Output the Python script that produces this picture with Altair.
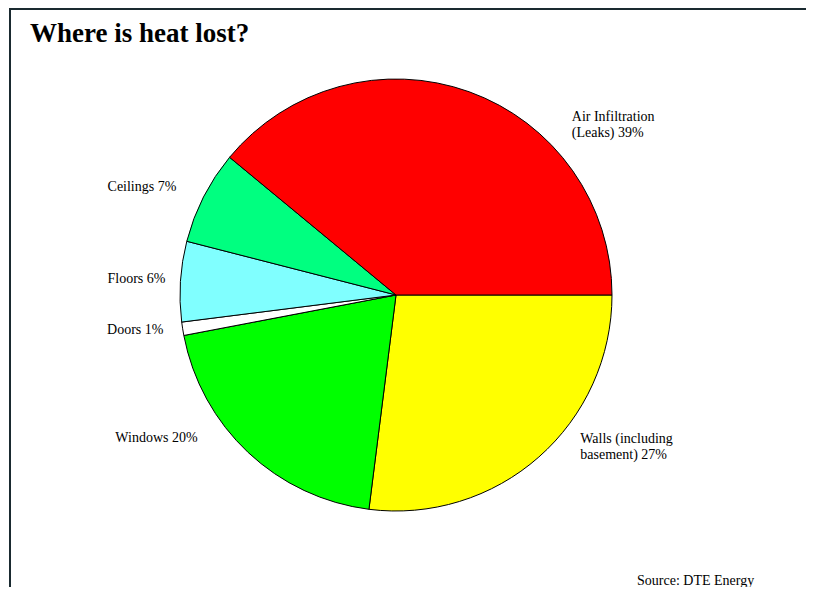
import math
import altair as alt
import pandas as pd

# ---- data (clockwise from 3 o'clock) ----
categories = ["Walls (including basement)", "Windows", "Doors", "Floors", "Ceilings", "Air Infiltration (Leaks)"]
shares = [27, 20, 1, 6, 7, 39]
labels = ["Walls (including\nbasement) 27%", "Windows 20%", "Doors 1%", "Floors 6%", "Ceilings 7%",
          "Air Infiltration\n(Leaks) 39%"]
colors = ["#FFFF00", "#00FF00", "#FFFFFF", "#80FFFF", "#00FF80", "#FF0000"]
title_text = "Where is heat lost?"
source_text = "Source: DTE Energy"

# label anchors: position along the circle (percent units) and distance from centre (px)
label_at = [10.57, 42.5, 48.1, 50.9, 55.7, 87.41]
label_r = [234, 315, 291, 289, 308, 250]

df = pd.DataFrame({
    "category": categories,
    "share": shares,
    "label": labels,
    "idx": list(range(len(categories))),
    "label_at": label_at,
    "label_r": label_r,
})

theta_scale = alt.Scale(domain=[0, 100], range=[math.pi / 2, math.pi / 2 + 2 * math.pi])
FONT = "Liberation Serif"

pie = alt.Chart(df).mark_arc(radius=216, stroke="black", strokeWidth=1).encode(
    theta=alt.Theta("share:Q", stack=True, scale=theta_scale),
    order=alt.Order("idx:Q"),
    color=alt.Color("category:N", scale=alt.Scale(domain=categories, range=colors), legend=None),
)

text = alt.Chart(df).mark_text(
    align="left", baseline="middle", font=FONT, fontSize=14, lineBreak="\n", lineHeight=16, color="black"
).encode(
    theta=alt.Theta("label_at:Q", stack=False, scale=theta_scale),
    radius=alt.Radius("label_r:Q", scale=None),
    text="label:N",
)

one = pd.DataFrame({"title": [title_text], "source": [source_text]})

title = alt.Chart(one).mark_text(
    align="left", baseline="alphabetic", font=FONT, fontSize=27, fontWeight="bold", color="black"
).encode(x=alt.value(20), y=alt.value(-6), text="title:N")

source = alt.Chart(one).mark_text(
    align="left", baseline="middle", font=FONT, fontSize=14, color="black"
).encode(x=alt.value(627), y=alt.value(533), text="source:N")

border_left = alt.Chart(one).mark_rule(color="#1a2a30", strokeWidth=2).encode(
    x=alt.value(0), y=alt.value(-40), y2=alt.value(539)
)
border_top = alt.Chart(one).mark_rule(color="#1a2a30", strokeWidth=2).encode(
    x=alt.value(-1), x2=alt.value(796), y=alt.value(-39)
)

chart = alt.layer(pie, text, title, source, border_left, border_top).properties(
    width=772,
    height=494,
    autosize=alt.AutoSizeParams(type="none"),
    padding={"left": 2, "top": 40, "right": 24, "bottom": 45},
    background="white",
).configure_view(strokeWidth=0)

chart.save("out.html", embed_options={"renderer": "svg", "actions": False})
